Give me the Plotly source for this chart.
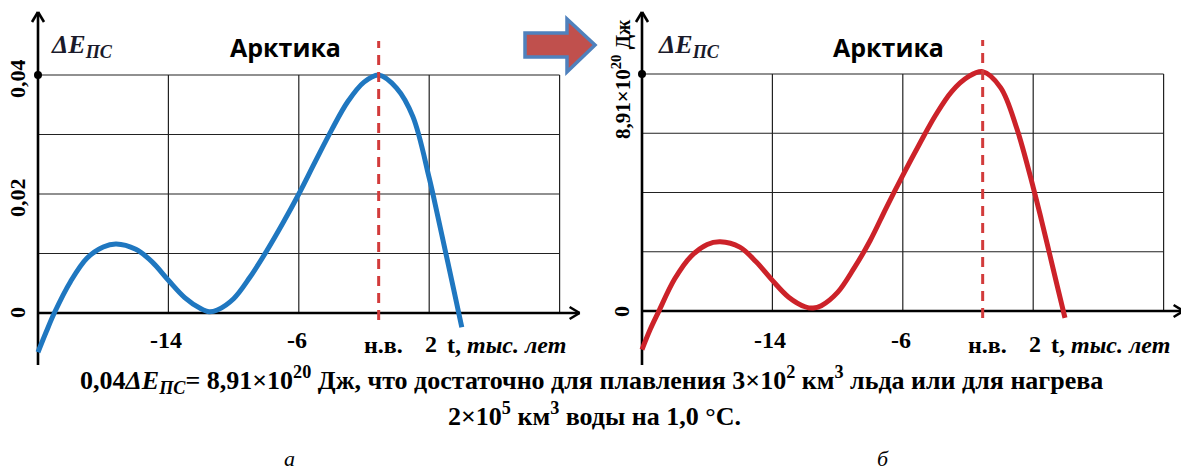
import plotly.graph_objects as go

W, H = 1181, 472

# ---------------- data ----------------
# time, thousand years (н.в. = present)
BLUE_T = [-22, -21.5, -21, -20, -19, -18, -17.2, -16, -15, -14, -13, -12, -11.5, -11, -10,
          -9, -8, -7, -6, -5, -4, -3, -2, -1.1, 0, 1, 2, 2.5, 3, 3.5, 4.0]
# ΔE_ПС (relative units)
BLUE_V = [-0.0066, -0.0032, 0.0, 0.0053, 0.0092, 0.0111, 0.0116, 0.0107, 0.0086, 0.0055,
          0.0026, 0.0007, 0.0002, 0.0005, 0.0024, 0.0060, 0.0103, 0.0150, 0.0200, 0.0254,
          0.0307, 0.0355, 0.0388, 0.0400, 0.0378, 0.0330, 0.0227, 0.0166, 0.0103, 0.0040, -0.0024]

RED_T = [-22, -21.5, -21, -20, -19, -18, -17.2, -16, -15, -14, -13, -12, -11.5, -11, -10,
         -9, -8, -7, -6, -5, -4, -3, -2, -1.1, 0, 1, 2, 2.5, 3, 3.5, 3.95]
# ΔE_ПС, ×10^20 Дж
RED_V = [-1.45, -0.7, -0.05, 1.2, 2.05, 2.5, 2.6, 2.4, 1.85, 1.15, 0.52, 0.16, 0.11, 0.2, 0.7,
         1.6, 2.65, 3.9, 5.1, 6.25, 7.35, 8.25, 8.8, 9.0, 8.4, 6.85, 4.65, 3.43, 2.16, 0.88, -0.26]

GRID_T = [-14, -6, 2, 10]
LEFT_GRID_V = [0, 0.01, 0.02, 0.03, 0.04]
RIGHT_GRID_V = [0, 2.2275, 4.455, 6.6825, 8.91]
X_TICK_T = [-14, -6]
X_TICK_TEXT = ["-14", "-6"]
LEFT_Y_TICKS = [0, 0.02, 0.04]
LEFT_Y_TEXT = ["0", "0,02", "0,04"]
T_START, T_END = -22, 10
NOW_T = -1.1

SERIF = "Liberation Serif"
BLUE = "#1f77c0"
RED = "#cc2229"
DASH_RED = "#d23b3b"
GRID = "#222222"

panels = [
    dict(xa="x", ya="y", dom=(0.0, 0.5), x0px=38, sx=16.3, y0px=313, sy=5950.0,
         t=BLUE_T, v=BLUE_V, color=BLUE, grid=LEFT_GRID_V, off=0),
    dict(xa="x2", ya="y2", dom=(0.5, 1.0), x0px=642, sx=16.3, y0px=311, sy=26.6,
         t=RED_T, v=RED_V, color=RED, grid=RIGHT_GRID_V, off=604),
]

fig = go.Figure()
shapes = []
ann = []


def P(px, py):
    return px / W, 1 - py / H


for i, p in enumerate(panels):
    d0, d1 = p["dom"][0] * W, p["dom"][1] * W
    xr = [T_START - (p["x0px"] - d0) / p["sx"], T_START + (d1 - p["x0px"]) / p["sx"]]
    yr = [-(H - p["y0px"]) / p["sy"], p["y0px"] / p["sy"]]
    suffix = "" if i == 0 else str(i + 1)
    fig.update_layout({
        "xaxis" + suffix: dict(domain=list(p["dom"]), range=xr, visible=False, fixedrange=True,
                               anchor=p["ya"]),
        "yaxis" + suffix: dict(domain=[0, 1], range=yr, visible=False, fixedrange=True,
                               anchor=p["xa"]),
    })
    xa, ya, sx, sy = p["xa"], p["ya"], p["sx"], p["sy"]
    top = p["grid"][-1]

    def L(x0, y0, x1, y1, color=GRID, width=1.2, dash=None):
        shapes.append(dict(type="line", xref=xa, yref=ya, x0=x0, y0=y0, x1=x1, y1=y1,
                           line=dict(color=color, width=width, dash=dash), layer="below"))

    for g in p["grid"][1:]:
        L(T_START, g, T_END, g)
    for g in GRID_T:
        L(g, 0, g, top)
    # axes with open arrowheads
    tip_x = T_END + 20 / sx
    L(T_START, 0, tip_x, 0, "black", 2.6)
    L(tip_x - 10 / sx, 6 / sy, tip_x, 0, "black", 2.6)
    L(tip_x - 10 / sx, -6 / sy, tip_x, 0, "black", 2.6)
    y_top = (p["y0px"] - 12) / sy
    y_bot = -(365 - p["y0px"]) / sy
    L(T_START, y_bot, T_START, y_top, "black", 2.6)
    L(T_START - 6 / sx, y_top - 10 / sy, T_START, y_top, "black", 2.6)
    L(T_START + 6 / sx, y_top - 10 / sy, T_START, y_top, "black", 2.6)
    # present-day line
    shapes.append(dict(type="line", xref=xa, yref=ya, x0=NOW_T, x1=NOW_T,
                       y0=-7 / sy, y1=top + 34 / sy,
                       line=dict(color=DASH_RED, width=3, dash="10px,7px"), layer="above"))

    fig.add_trace(go.Scatter(x=p["t"], y=p["v"], mode="lines", xaxis=xa, yaxis=ya,
                             line=dict(color=p["color"], width=5, shape="spline", smoothing=1.0),
                             showlegend=False, hoverinfo="skip"))
    fig.add_trace(go.Scatter(x=[T_START], y=[top], mode="markers", xaxis=xa, yaxis=ya,
                             marker=dict(color="black", size=8), showlegend=False,
                             hoverinfo="skip"))

    off = p["off"]
    # titles
    x, y = P(49 + off + (3 if i else 0), 46)
    ann.append(dict(text="<b><i>ΔE<sub>ПС</sub></i></b>", x=x, y=y, xref="paper", yref="paper",
                    xanchor="left", yanchor="middle", showarrow=False,
                    font=dict(family=SERIF, size=26, color="#1a1a2a")))
    x, y = P(287 + off - 2, 47)
    ann.append(dict(text="<b>Арктика</b>", x=x, y=y, xref="paper", yref="paper",
                    xanchor="center", yanchor="middle", showarrow=False,
                    font=dict(family="Open Sans", size=25, color="black")))
    # x tick labels
    for tv, tt in zip(X_TICK_T, X_TICK_TEXT):
        ann.append(dict(text="<b>" + tt + "</b>", x=tv - 2 / sx, y=1 - 340 / H, xref=xa,
                        yref="paper", xanchor="center", yanchor="middle", showarrow=False,
                        font=dict(family=SERIF, size=24, color="black")))
    ann.append(dict(text="<b>н.в.</b>", x=NOW_T + 5 / sx, y=1 - 345 / H, xref=xa, yref="paper",
                    xanchor="center", yanchor="middle", showarrow=False,
                    font=dict(family=SERIF, size=24, color="black")))
    ann.append(dict(text="<b>2</b>", x=GRID_T[2] + 2 / sx, y=1 - 344 / H, xref=xa,
                    yref="paper", xanchor="center", yanchor="middle", showarrow=False,
                    font=dict(family=SERIF, size=24, color="black")))
    ann.append(dict(text="<b>t, <i>тыс. лет</i></b>", x=GRID_T[2] + 16 / sx, y=1 - 345 / H,
                    xref=xa, yref="paper", xanchor="left", yanchor="middle", showarrow=False,
                    font=dict(family=SERIF, size=24, color="black")))

# left y tick labels
for tv, tt in zip(LEFT_Y_TICKS, LEFT_Y_TEXT):
    ann.append(dict(text="<b>" + tt + "</b>", x=17 / W, y=tv - (4 / 5950 if tv else 0),
                    xref="paper", yref="y",
                    textangle=-90, xanchor="center", yanchor="middle", showarrow=False,
                    font=dict(family=SERIF, size=22, color="black")))
# right y labels
ann.append(dict(text="<b>0</b>", x=621 / W, y=0, xref="paper", yref="y2", textangle=-90,
                xanchor="center", yanchor="middle", showarrow=False,
                font=dict(family=SERIF, size=22, color="black")))
x, y = P(621, 79)
ann.append(dict(text="<b>8,91×10<sup>20</sup> Дж</b>", x=x, y=y, xref="paper", yref="paper",
                textangle=-90, xanchor="center", yanchor="middle", showarrow=False,
                font=dict(family=SERIF, size=21, color="black")))

# caption
x, y = P(591, 380)
ann.append(dict(text="<b>0,04<i>ΔE<sub>ПС</sub></i>= 8,91×10<sup>20</sup> Дж, что достаточно для "
                     "плавления 3×10<sup>2</sup> км<sup>3</sup> льда или для нагрева</b>",
                x=x, y=y, xref="paper", yref="paper", xanchor="center", yanchor="middle",
                showarrow=False, font=dict(family=SERIF, size=26, color="black")))
x, y = P(595, 414)
ann.append(dict(text="<b>2×10<sup>5</sup> км<sup>3</sup> воды на 1,0 °С.</b>",
                x=x, y=y, xref="paper", yref="paper", xanchor="center", yanchor="middle",
                showarrow=False, font=dict(family=SERIF, size=26, color="black")))
for lbl, px in (("а", 289), ("б", 883)):
    x, y = P(px, 458)
    ann.append(dict(text="<i>" + lbl + "</i>", x=x, y=y, xref="paper", yref="paper",
                    xanchor="center", yanchor="middle", showarrow=False,
                    font=dict(family=SERIF, size=22, color="black")))

# block arrow between panels
pts = [(525, 33), (567, 33), (567, 19), (595, 45), (567, 72), (567, 57), (525, 57)]
path = "M " + " L ".join(f"{px / W:.5f},{1 - py / H:.5f}" for px, py in pts) + " Z"
shapes.append(dict(type="path", xref="paper", yref="paper", path=path,
                   fillcolor="#c0504d", line=dict(color="#4f81bd", width=3.5), layer="above"))

fig.update_layout(width=W, height=H, margin=dict(l=0, r=0, t=0, b=0),
                  paper_bgcolor="white", plot_bgcolor="white",
                  shapes=shapes, annotations=ann, showlegend=False)

fig.write_html("out.html", config={"displayModeBar": False},
               post_script="document.body.style.margin='0';")
